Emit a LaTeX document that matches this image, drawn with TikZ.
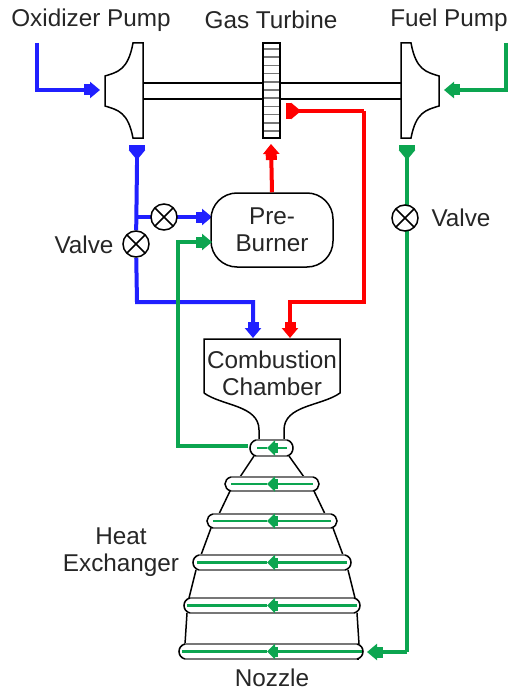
\documentclass[tikz,border=0pt]{standalone}
\usepackage{fontspec}
\setmainfont{Liberation Sans}
\usetikzlibrary{arrows.meta,backgrounds}
\definecolor{oxblue}{HTML}{2020FF}
\definecolor{hotred}{HTML}{FF0000}
\definecolor{fuelgreen}{HTML}{0CA550}
\definecolor{ringgrey}{HTML}{777777}
\tikzset{
  label text/.style={font=\fontsize{24.3}{27}\selectfont,text=black!85,inner sep=0pt},
  label block/.style={label text,align=center},
  outline/.style={draw=black,line width=1.5pt,line join=miter},
  flow/.style={line width=4pt,line join=miter},
  headin/.style={-{Rectangle[length=6pt,width=11pt].Triangle[length=10pt,width=16pt]}},
  headback/.style={-{Triangle[reversed,length=10pt,width=16pt].Rectangle[length=5pt,width=16pt]}},
  valve/.style={circle,draw=black,line width=1.5pt,fill=white,minimum size=26pt,inner sep=0pt,
    path picture={
      \draw[black,line width=1.5pt] (path picture bounding box.south west)--(path picture bounding box.north east)
        (path picture bounding box.north west)--(path picture bounding box.south east);}},
  burner/.style={draw=black,line width=1.5pt,rounded corners=26pt,minimum width=122pt,minimum height=74pt,fill=white,inner sep=0pt},
  ringflow/.style={draw=fuelgreen,line width=2.5pt},
  ringhead/.style={-{Rectangle[length=3pt,width=10pt].Triangle[length=8pt,width=15pt]}},
}
% #1 name, #2 left x, #3 right x, #4 top y, #5 bottom y, #6 green left x, #7 green right x
\newcommand{\coolring}[7]{
  \coordinate (#1tl) at (#2+7,#4);
  \coordinate (#1tr) at (#3-7,#4);
  \coordinate (#1bl) at (#2+7,#5);
  \coordinate (#1br) at (#3-7,#5);
  \coordinate (#1gl) at (#6,{(#4+#5)/2});
  \coordinate (#1gr) at (#7,{(#4+#5)/2});
  \coordinate (#1gm) at (267,{(#4+#5)/2});
  \draw[draw=ringgrey,line width=2pt] (#1tl)--(#1tr) (#1bl)--(#1br);
  \draw[outline] (#1tl) .. controls (#2-1,#4+2) and (#2-1,#5-2) .. (#1bl);
  \draw[outline] (#1tr) .. controls (#3+1,#4+2) and (#3+1,#5-2) .. (#1br);
  \draw[ringflow] (#1gl)--(#1gm);
  \draw[ringflow,ringhead] (#1gr)--(#1gm);
}
\begin{document}
\begin{tikzpicture}[x=1pt,y=-1pt]
\useasboundingbox (0,0) rectangle (508,690);

% labels
\node[label text] (lox) at (91,20) {Oxidizer Pump};
\node[label text] (lgt) at (271,20) {Gas Turbine};
\node[label text] (lfu) at (449,20) {Fuel Pump};
\node[label text] (lva) at (84,245) {Valve};
\node[label text] (lvb) at (461,218) {Valve};
\node[label block] (lhe) at (121,552) {Heat\\Exchanger};
\node[label text] (lno) at (272,678) {Nozzle};

% shaft
\coordinate (shaftAl) at (143,83);
\coordinate (shaftAr) at (402,83);
\coordinate (shaftBl) at (143,99);
\coordinate (shaftBr) at (402,99);
\draw[outline] (shaftAl)--(shaftAr) (shaftBl)--(shaftBr);

% pumps
\draw[outline,fill=white] (143,43)--(133,43) .. controls (128,70) and (118,72) .. (105,76)
  --(105,106) .. controls (118,110) and (128,112) .. (133,138)--(143,138)--cycle;
\draw[outline,fill=white] (401,43)--(411,43) .. controls (416,70) and (426,72) .. (439,76)
  --(439,106) .. controls (426,110) and (416,112) .. (411,138)--(401,138)--cycle;

% turbine
\draw[outline,fill=white] (263,43) rectangle (280,138);
\foreach \k in {0,...,10}{
  \draw[draw=ringgrey,line width=1.5pt] (264,49+8.2*\k)--(279,49+8.2*\k);
}

% preburner, valves
\node[burner,label block,inner sep=0pt] (pre) at (272,230) {Pre-\\Burner};
\node[valve] (v1) at (136,244) {};
\node[valve] (v2) at (164,217) {};
\node[valve] (v3) at (405,218) {};

% chamber
\draw[outline,fill=white] (204,393)--(204,339)--(340,339)--(340,393)
  .. controls (322,406) and (284,405) .. (284,430) -- (284,440)
  -- (259,440) -- (259,430) .. controls (259,405) and (222,406) .. (204,393);
\node[label block] (cc) at (272,373) {Combustion\\Chamber};

% nozzle walls
\draw[outline] (254,456)--(240,477) (289,456)--(304,477)
  (230,491)--(219,514) (314,491)--(325,514)
  (211,528)--(201,555) (333,528)--(343,555)
  (196,570)--(189,598) (348,570)--(355,598)
  (187,613)--(185,644) (357,613)--(359,644);
\draw[outline] (185,659)--(359,659);

% cooling rings
\coolring{ra}{249}{294}{440}{456}{257}{287}
\coolring{rb}{224}{320}{477}{491}{231}{313}
\coolring{rc}{206}{338}{514}{528}{213}{331}
\coolring{rd}{192}{352}{555}{570}{197}{347}
\coolring{re}{183}{361}{598}{613}{187}{357}
\coolring{rf}{178}{364}{644}{659}{182}{362}

% connector ends
\coordinate (oxin) at (37,43);
\coordinate (oxpump) at (100,90);
\coordinate (oxout) at (137,145);
\coordinate (fuin) at (506,43);
\coordinate (fupump) at (444,90);
\coordinate (fuout) at (407,145);
\coordinate (tbin) at (271,144);
\coordinate (tbside) at (286,111);
\coordinate (ccox) at (253,338);
\coordinate (ccfu) at (290,338);
\coordinate (nozin) at (367,652);
\coordinate (thr) at (248,446);

% blue
\draw[flow,draw=oxblue,headin] (oxin)|-(oxpump);
\begin{scope}[on background layer]
\draw[flow,draw=oxblue] (137,165)--(v1);
\draw[flow,draw=oxblue,headin] (137,217)--(212,217);
\draw[flow,draw=oxblue,headin] (v1)--(137,302)-|(ccox);
\draw[flow,draw=fuelgreen] (407,165)--(407,652);
\end{scope}
\draw[flow,draw=oxblue,headback] (137,170)--(oxout);

% red
\draw[flow,draw=hotred,headin] (pre.north)--(tbin);
\draw[flow,draw=hotred,headback] (364,111)--(tbside);
\draw[flow,draw=hotred,headin] (364,111)--(364,302)-|(ccfu);

% green
\draw[flow,draw=fuelgreen,headin] (fuin)|-(fupump);
\draw[flow,draw=fuelgreen,headback] (407,170)--(fuout);
\draw[flow,draw=fuelgreen,headin] (407,652)--(nozin);
\draw[flow,draw=fuelgreen,headin] (thr)-|(178,242)--(212,242);
\end{tikzpicture}
\end{document}
